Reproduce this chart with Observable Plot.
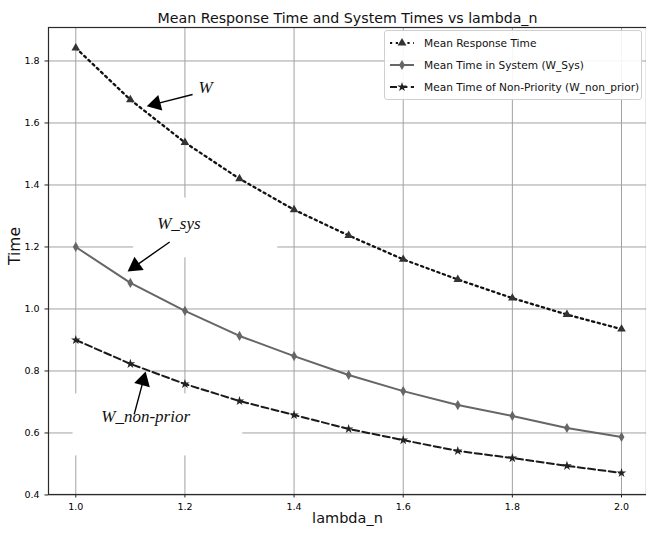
<!DOCTYPE html>
<html>
<head>
<meta charset="utf-8">
<script src="https://cdn.jsdelivr.net/npm/d3@7"></script>
<script src="https://cdn.jsdelivr.net/npm/@observablehq/plot@0.6"></script>
<style>
  html, body { margin: 0; padding: 0; background: #fff; }
  #wrap { position: relative; width: 646px; height: 536px; font-family: "DejaVu Sans", sans-serif; }
  #legend { position: absolute; left: 384px; top: 30px; width: 256px; height: 68px;
    border: 1px solid #cfcfcf; border-radius: 3px; background: rgba(255,255,255,0.9); }
  .row { position: absolute; left: 4px; height: 16px; display: flex; align-items: center;
    font-size: 10.6px; color: #111; white-space: nowrap; }
  .row svg { margin-right: 9px; }
</style>
</head>
<body>
<div id="wrap"></div>
<script>
const lambda = [1.0, 1.1, 1.2, 1.3, 1.4, 1.5, 1.6, 1.7, 1.8, 1.9, 2.0];
const meanResponse = [1.842, 1.675, 1.537, 1.420, 1.320, 1.237, 1.160, 1.095, 1.035, 0.982, 0.935];
const meanSystem = [1.200, 1.084, 0.994, 0.913, 0.848, 0.787, 0.735, 0.690, 0.655, 0.616, 0.587];
const meanNonPrior = [0.900, 0.823, 0.758, 0.703, 0.658, 0.613, 0.577, 0.542, 0.519, 0.494, 0.471];
const xTicks = [1.0, 1.2, 1.4, 1.6, 1.8, 2.0];
const yTicks = [0.4, 0.6, 0.8, 1.0, 1.2, 1.4, 1.6, 1.8];
const seriesNames = ["Mean Response Time", "Mean Time in System (W_Sys)", "Mean Time of Non-Priority (W_non_prior)"];
const titleText = "Mean Response Time and System Times vs lambda_n";
const xLabel = "lambda_n";
const yLabel = "Time";
// annotations (data coordinates)
const annLabels = ["W", "W_sys", "W_non-prior"];
const annTextX = [1.238, 1.189, 1.128];
const annTextY = [1.713, 1.277, 0.652];
const annFromX = [1.214, 1.172, 1.107];
const annFromY = [1.692, 1.216, 0.660];
const annToX = [1.130, 1.095, 1.128];
const annToY = [1.654, 1.121, 0.798];
const maskX1 = [1.106, 0.995];
const maskX2 = [1.370, 1.306];
const maskY1 = [1.165, 0.526];
const maskY2 = [1.358, 0.726];

const xDomain = [0.95, 2.0458];
const yDomain = [0.4015, 1.908];
const W = 646, H = 536, mL = 48, mR = 0, mT = 27, mB = 42;

const data = lambda.map((x, i) => ({x, w: meanResponse[i], ws: meanSystem[i], wn: meanNonPrior[i]}));
const masks = maskX1.map((d, i) => ({x1: maskX1[i], x2: maskX2[i], y1: maskY1[i], y2: maskY2[i]}));

// pixel helpers for arrow-head orientation
const sx = d3.scaleLinear(xDomain, [mL, W - mR]);
const sy = d3.scaleLinear(yDomain, [H - mB, mT]);
const headR = 6;
const headBack = 2 * Math.sqrt((headR * headR * Math.PI) / (3 * Math.sqrt(3)));
const arrows = annLabels.map((lab, i) => {
  const fx = sx(annFromX[i]), fy = sy(annFromY[i]), tx = sx(annToX[i]), ty = sy(annToY[i]);
  const dx = tx - fx, dy = ty - fy, len = Math.hypot(dx, dy);
  const ux = dx / len, uy = dy / len;
  const cx = tx - ux * headBack, cy = ty - uy * headBack;
  return {
    label: lab, tx: annTextX[i], ty: annTextY[i],
    x1: annFromX[i], y1: annFromY[i],
    x2: sx.invert(cx), y2: sy.invert(cy),
    hx: sx.invert(cx), hy: sy.invert(cy),
    rot: Math.atan2(ux, -uy) * 180 / Math.PI
  };
});

const plot = Plot.plot({
  width: W, height: H,
  marginLeft: mL, marginRight: mR, marginTop: mT, marginBottom: mB,
  style: {fontFamily: "DejaVu Sans, sans-serif", background: "white", overflow: "visible"},
  x: {domain: xDomain, label: null},
  y: {domain: yDomain, label: null},
  marks: [
    Plot.gridX(xTicks, {stroke: "#a2a2a2", strokeOpacity: 1, strokeWidth: 1}),
    Plot.gridY(yTicks, {stroke: "#a2a2a2", strokeOpacity: 1, strokeWidth: 1}),
    Plot.rect(masks, {x1: "x1", x2: "x2", y1: "y1", y2: "y2", fill: "white"}),
    Plot.line(data, {x: "x", y: "w", stroke: "#111", strokeWidth: 2.3, strokeDasharray: "2.2,3.6"}),
    Plot.dot(data, {x: "x", y: "w", symbol: "triangle", r: 3.2, fill: "#333", stroke: "none"}),
    Plot.line(data, {x: "x", y: "ws", stroke: "#666", strokeWidth: 2}),
    Plot.dot(data, {x: "x", y: "ws", symbol: "diamond", r: 3.1, fill: "#666", stroke: "none"}),
    Plot.line(data, {x: "x", y: "wn", stroke: "#1a1a1a", strokeWidth: 2, strokeDasharray: "7,3.4"}),
    Plot.dot(data, {x: "x", y: "wn", symbol: "star", r: 3, fill: "#222", stroke: "none"}),
    Plot.axisX({ticks: xTicks, tickFormat: d3.format(".1f"), tickSize: 3.5, fontSize: 9.5, stroke: "#222", label: null}),
    Plot.axisY({ticks: yTicks, tickFormat: d3.format(".1f"), tickSize: 3.5, fontSize: 9.5, stroke: "#222", label: null}),
    Plot.frame({stroke: "#2a2a2a", strokeWidth: 1.2}),
    Plot.text(arrows, {x: "tx", y: "ty", text: "label", fontFamily: "Liberation Serif, serif", fontStyle: "italic", fontSize: 17, fill: "#111"}),
    Plot.link(arrows, {x1: "x1", y1: "y1", x2: "x2", y2: "y2", stroke: "#000", strokeWidth: 1.4}),
    Plot.dot(arrows, {x: "hx", y: "hy", symbol: "triangle", r: headR, rotate: "rot", fill: "#000", stroke: "none"}),
    Plot.text([titleText], {text: d => d, frameAnchor: "top", dy: -15, fontSize: 14.2, fill: "#111"}),
    Plot.text([xLabel], {text: d => d, frameAnchor: "bottom", dy: 28, fontSize: 14.5, fill: "#111"}),
    Plot.text([yLabel], {text: d => d, frameAnchor: "left", rotate: -90, dx: -33, dy: 4, fontSize: 15.5, fill: "#111"})
  ]
});

const wrap = document.getElementById("wrap");
wrap.appendChild(plot);

// legend
const legend = d3.select(wrap).append("div").attr("id", "legend");
const styles = [
  {stroke: "#111", dash: "2.2,3.6", symbol: d3.symbolTriangle, fill: "#333", size: 34},
  {stroke: "#666", dash: null, symbol: d3.symbolDiamond, fill: "#666", size: 30},
  {stroke: "#1a1a1a", dash: "7,3.4", symbol: d3.symbolStar, fill: "#222", size: 28}
];
seriesNames.forEach((name, i) => {
  const row = legend.append("div").attr("class", "row").style("top", (4 + i * 22) + "px");
  const s = row.append("svg").attr("width", 26).attr("height", 12);
  const st = styles[i];
  s.append("line").attr("x1", 1).attr("x2", 25).attr("y1", 6).attr("y2", 6)
    .attr("stroke", st.stroke).attr("stroke-width", 2).attr("stroke-dasharray", st.dash);
  s.append("path").attr("d", d3.symbol(st.symbol, st.size)()).attr("transform", "translate(13,6)").attr("fill", st.fill);
  row.append("span").text(name);
});
</script>
</body>
</html>
